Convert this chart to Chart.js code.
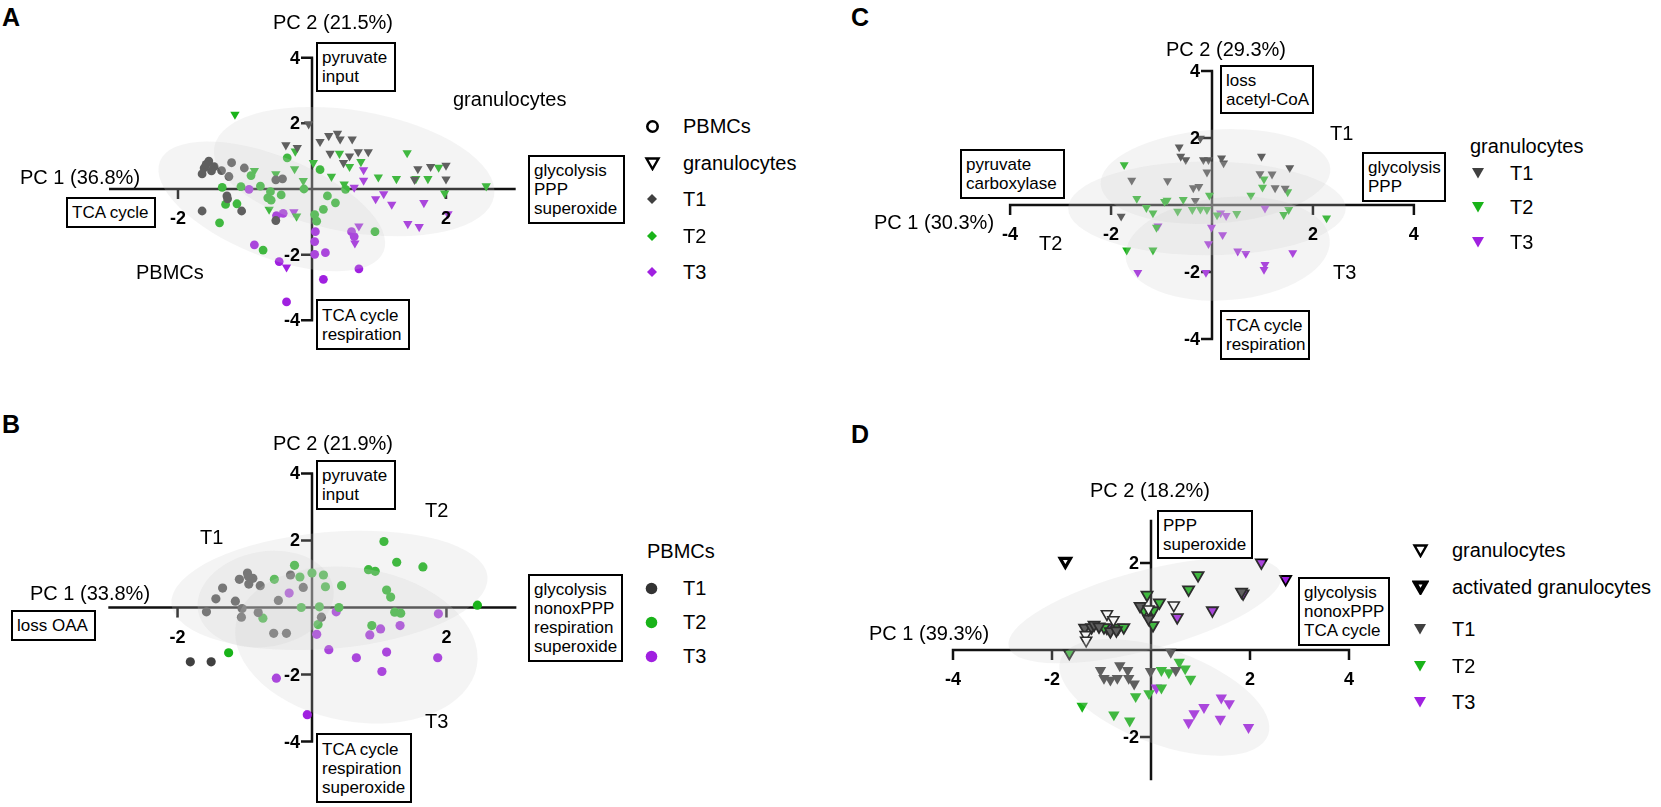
<!DOCTYPE html>
<html lang="en">
<head>
<meta charset="UTF-8" />
<title>PCA of metabolic fluxes</title>
<script src="https://cdn.jsdelivr.net/npm/chart.js"></script>
<style>
  body { margin: 0; background: #fff; }
  #fig { position: relative; width: 1661px; height: 807px; overflow: hidden;
         font-family: 'Liberation Sans', Arial, sans-serif; color: #000; }
  canvas { position: absolute; }
  .t { position: absolute; font-size: 20px; line-height: 20px; white-space: nowrap; }
  .letter { position: absolute; font-size: 25px; font-weight: bold; line-height: 25px; }
  .tick { position: absolute; font-size: 18px; font-weight: bold; line-height: 18px; white-space: nowrap; }
  .box { position: absolute; box-sizing: border-box; border: 2.5px solid #000; background: #fff;
         font-size: 17px; line-height: 19px; padding-left: 4px; white-space: nowrap;
         display: flex; flex-direction: column; justify-content: center; }
  .mk { position: absolute; line-height: 0; }
</style>
</head>
<body>
<div id="fig"></div>
<script>
// ---- colours of the time points
const T1 = '#404040', T2 = '#19b319', T3 = '#a020e0';

// ---- panel A: PBMCs (circles) and granulocytes (triangles)
const aGranT1 = [[-0.39,1.34],[-0.22,1.26],[-0.05,1.98],[0.12,1.44],[0.25,1.62],[0.38,1.69],[0.42,1.52],[0.60,1.52],
  [0.27,1.08],[0.56,1.00],[0.69,1.13],[0.84,1.13],[0.47,0.80],[1.58,0.61],[1.77,0.68],[2.00,0.72],[1.53,0.29],[2.00,0.30]];
const aGranT2 = [[-1.15,2.27],[-0.86,0.56],[-0.54,0.46],[-0.25,1.15],[-0.26,0.61],[-0.13,0.25],[0.02,0.80],[0.29,0.38],
  [0.48,0.15],[0.41,1.08],[0.73,0.83],[0.56,0.68],[0.99,0.36],[1.26,0.31],[1.42,1.10],[1.89,0.66],[1.55,0.31],
  [1.73,0.31],[1.98,-0.13],[2.60,0.09],[-0.23,-0.83],[-0.64,-0.62]];
const aGranT3 = [[0.77,0.58],[0.77,0.26],[0.63,0.05],[0.95,-0.30],[1.07,-0.15],[1.19,-0.47],[1.67,-0.42],[1.43,-1.06],
  [1.60,-1.15],[2.03,-0.76],[0.70,-1.13],[0.64,-1.65],[-0.38,-2.38],[-0.27,-0.70]];
const aPbmcT1 = [[-1.54,0.85],[-1.61,0.64],[-1.64,0.46],[-1.46,0.68],[-1.35,0.56],[-1.24,0.38],[-1.20,0.80],[-1.01,0.64],
  [-1.27,-0.21],[-1.26,-0.30],[-1.05,-0.67],[-1.64,-0.67],[-0.54,0.28],[-0.44,0.31],[-0.54,-0.96],[-1.58,0.75],[-1.50,0.55]];
const aPbmcT2 = [[-1.34,0.05],[-1.29,-0.47],[-1.38,-1.03],[-1.12,-0.45],[-1.06,0.07],[-0.91,0.41],[-0.77,0.09],[-0.66,-0.27],
  [-0.62,-0.08],[-0.61,-0.34],[-0.46,-0.18],[-0.37,0.95],[-0.12,0.00],[0.12,0.59],[0.23,-0.21],[0.35,-0.42],[0.17,-0.62],
  [0.04,-0.78],[0.07,-0.98],[0.50,-0.01],[0.94,-1.30],[-0.73,-1.86]];
const aPbmcT3 = [[-0.94,-0.01],[-0.53,-0.81],[-0.43,-0.74],[-0.86,-1.70],[-0.49,-2.21],[0.05,-1.30],[0.04,-1.60],[0.04,-1.99],
  [0.20,-1.94],[0.17,-2.75],[0.70,-2.43],[0.59,-1.30],[0.63,-1.45],[-0.38,-3.44]];
// confidence ellipses: [cx, cy, rx, ry, rotation deg]
const aEllipses = [[-0.60,-0.53,1.80,1.53,22],[0.63,0.53,2.12,1.85,10]];

// ---- panel B: PBMCs only
const bT1 = [[-0.96,1.03],[-1.08,0.84],[-0.88,0.87],[-0.94,0.70],[-0.77,0.65],[-0.95,0.94],[-1.33,0.58],[-1.43,0.26],
  [-1.14,0.19],[-1.57,-0.13],[-1.04,-0.03],[-1.05,-0.29],[-0.80,-0.15],[-0.50,0.21],[-0.32,0.97],[-0.13,0.60],
  [-0.57,-0.77],[-0.38,-0.77],[0.14,-0.29],[-1.81,-1.62],[-1.50,-1.62]];
const bT2 = [[-0.26,1.26],[-0.56,0.84],[-0.18,0.91],[0.00,1.03],[0.17,0.97],[0.20,0.62],[0.44,0.65],[-0.16,0.00],
  [0.11,0.02],[0.40,0.00],[-0.73,-0.32],[0.09,-0.51],[-1.24,-1.35],[1.07,1.97],[1.26,1.35],[1.65,1.21],[0.84,1.13],
  [0.94,1.08],[1.11,0.52],[1.17,0.31],[1.23,-0.14],[1.32,-0.17],[0.89,-0.54],[2.46,0.07]];
const bT3 = [[-0.34,0.43],[0.36,-0.13],[0.07,-0.80],[0.25,-1.26],[0.66,-1.50],[0.86,-0.82],[1.02,-0.64],[1.31,-0.54],
  [1.11,-1.33],[1.04,-1.91],[1.88,-0.19],[1.87,-1.50],[-0.53,-2.11],[-0.07,-3.20]];
const bEllipses = [[-0.69,0.25,1.02,1.42,-10],[0.26,0.51,2.36,1.74,-5],[0.66,-1.12,1.82,2.29,10]];

// ---- panel C: granulocytes only
const cT1 = [[-0.23,1.99],[-0.65,1.73],[-0.62,1.45],[-0.52,1.35],[-0.17,1.35],[-0.07,1.35],[0.19,1.40],[0.23,1.25],
  [-0.10,0.98],[-1.59,0.74],[-0.88,0.72],[-0.37,0.51],[-0.26,0.55],[-0.33,0.13],[-1.80,-0.34],[0.98,1.45],[1.54,1.11],
  [0.95,0.93],[1.19,0.92],[1.25,0.51],[1.45,0.50]];
const cT2 = [[-1.74,1.20],[-1.49,0.19],[-1.30,-0.08],[-1.17,-0.24],[-1.10,-0.67],[-0.94,0.10],[-0.89,0.14],[-0.68,-0.19],
  [-0.57,0.16],[-0.39,-0.14],[-0.23,-0.13],[-0.10,-0.14],[-0.05,0.29],[-1.69,-1.35],[-1.17,-1.35],[0.49,-0.26],
  [0.10,-0.30],[1.03,0.77],[1.00,0.53],[0.77,0.29],[1.50,0.39],[1.42,-0.29],[1.52,-0.14],[2.27,-0.39]];
const cT3 = [[-1.07,-0.63],[-1.47,-2.02],[-0.01,-0.67],[0.21,-0.89],[-0.07,-1.16],[-0.12,-2.02],[0.17,-0.24],[0.28,-0.32],
  [0.51,-1.38],[0.67,-1.45],[1.05,-0.10],[1.60,-1.43],[1.05,-1.78],[1.03,-1.93]];
const cEllipses = [[0.07,0.85,2.28,1.40,-4],[-0.10,-0.10,2.75,1.40,0],[0.31,-1.30,2.03,1.54,-5]];

// ---- panel D: resting and activated granulocytes
const dActOpen = [[-1.73,2.04]];
const dOpen = [[-1.32,0.35],[-1.31,0.22],[-0.89,0.83],[-0.76,0.69],[-0.05,0.94],[0.46,1.03]];
const dActT1 = [[-1.34,0.51],[-1.20,0.52],[-1.15,0.58],[-1.05,0.54],[-0.82,0.43],[-0.70,0.45],[-0.22,1.01],[-0.05,0.72],[1.83,1.34]];
const dActT2 = [[-0.95,0.52],[-0.66,0.51],[-0.55,0.52],[-0.08,1.27],[-0.14,0.91],[0.05,0.91],[0.17,1.09],[0.04,0.57],
  [0.76,1.39],[0.95,1.72],[-1.65,-0.07]];
const dActT3 = [[-0.89,0.51],[0.53,0.75],[1.24,0.91],[1.86,1.30],[2.23,2.01],[2.72,1.63]];
const dT1 = [[-1.02,-0.47],[-0.95,-0.65],[-0.82,-0.69],[-0.68,-0.65],[-0.63,-0.36],[-0.47,-0.47],[-0.45,-0.65],
  [-0.34,-0.78],[-0.01,-0.49],[0.40,-0.05],[0.50,-0.47]];
const dT2 = [[0.21,-0.47],[0.36,-0.52],[0.57,-0.28],[0.69,-0.43],[0.80,-0.67],[-0.31,-1.07],[-0.04,-1.00],[0.21,-0.87],
  [-1.39,-1.29],[-0.75,-1.49],[-0.43,-1.63]];
const dT3 = [[0.11,-0.87],[1.42,-1.10],[1.58,-1.23],[1.07,-1.32],[0.87,-1.46],[0.76,-1.67],[1.40,-1.59],[1.97,-1.78]];
const dEllipses = [[-0.12,0.91,2.85,0.91,-15],[0.27,-1.09,2.23,1.09,20]];

const fig = document.getElementById('fig');

function put(text, x, y, cls, align) {
  const d = document.createElement('div');
  d.className = cls || 't';
  d.textContent = text;
  d.style.left = x + 'px';
  fig.appendChild(d);
  d.style.top = (y - d.offsetHeight / 2) + 'px';
  if (align === 'center') d.style.transform = 'translateX(-50%)';
  if (align === 'right') d.style.transform = 'translateX(-100%)';
}

function box(lines, x, y, w, h) {
  const d = document.createElement('div');
  d.className = 'box';
  Object.assign(d.style, { left: x + 'px', top: y + 'px', width: w + 'px', height: h + 'px' });
  lines.forEach(l => { const s = document.createElement('div'); s.textContent = l; d.appendChild(s); });
  fig.appendChild(d);
}

function mark(svg, x, y) {
  const d = document.createElement('div');
  d.className = 'mk';
  d.innerHTML = svg;
  fig.appendChild(d);
  d.style.left = (x - d.offsetWidth / 2) + 'px';
  d.style.top = (y - d.offsetHeight / 2) + 'px';
}

const svgOpenCircle = '<svg width="15" height="15"><circle cx="7.5" cy="7.5" r="5.2" fill="#fff" stroke="#000" stroke-width="2.6"/></svg>';
const svgOpenTri = '<svg width="17" height="15"><polygon points="2.5,2.5 14.5,2.5 8.5,13" fill="#fff" stroke="#000" stroke-width="2.4"/></svg>';
const svgThickTri = '<svg width="17" height="15"><polygon points="3,2.5 14,2.5 8.5,12" fill="#fff" stroke="#000" stroke-width="4.2"/></svg>';
const svgDiamond = c => `<svg width="12" height="12"><polygon points="6,1 11,6 6,11 1,6" fill="${c}"/></svg>`;
const svgDot = c => `<svg width="13" height="13"><circle cx="6.5" cy="6.5" r="5.8" fill="${c}"/></svg>`;
const svgTri = c => `<svg width="14" height="12"><polygon points="1,1 13,1 7,11.4" fill="${c}"/></svg>`;

function ds(points, fill, style, r, border, borderW) {
  return {
    data: points.map(p => ({ x: p[0], y: p[1] })),
    showLine: false,
    clip: false,
    pointStyle: style,
    pointRotation: style === 'triangle' ? 180 : 0,
    pointRadius: r,
    pointBackgroundColor: fill,
    pointBorderColor: border || fill,
    pointBorderWidth: borderW || 0
  };
}

function axisPlugin(p) {
  return {
    id: 'pcaAxes' + p.id,
    beforeDatasetsDraw(chart) {
      const { ctx, scales: { x, y } } = chart;
      const px = v => x.getPixelForValue(v), py = v => y.getPixelForValue(v);
      ctx.save();
      ctx.strokeStyle = '#111';
      ctx.lineWidth = 2.5;
      ctx.beginPath();
      ctx.moveTo(px(p.xAxis[0]), py(0)); ctx.lineTo(px(p.xAxis[1]), py(0));
      ctx.moveTo(px(0), py(p.yAxis[0])); ctx.lineTo(px(0), py(p.yAxis[1]));
      p.xTicks.forEach(v => { ctx.moveTo(px(v), py(0) - 1.2); ctx.lineTo(px(v), py(0) + 10); });
      p.yTicks.forEach(v => { ctx.moveTo(px(0) + 1.2, py(v)); ctx.lineTo(px(0) - 11, py(v)); });
      ctx.stroke();
      ctx.restore();
    },
    afterDatasetsDraw(chart) {
      const { ctx, scales: { x, y } } = chart;
      ctx.save();
      ctx.fillStyle = 'rgba(205,205,205,0.22)';
      p.ellipses.forEach(([cx, cy, rx, ry, rot]) => {
        const rxp = Math.abs(x.getPixelForValue(rx) - x.getPixelForValue(0));
        const ryp = Math.abs(y.getPixelForValue(ry) - y.getPixelForValue(0));
        ctx.beginPath();
        ctx.ellipse(x.getPixelForValue(cx), y.getPixelForValue(cy), rxp, ryp, rot * Math.PI / 180, 0, Math.PI * 2);
        ctx.fill();
      });
      ctx.restore();
    }
  };
}

function makePanel(p) {
  const L = Math.floor(p.x0 - p.ext[0] * p.sx), R = Math.ceil(p.x0 + p.ext[0] * p.sx);
  const T = Math.floor(p.y0 - p.ext[1] * p.sy), B = Math.ceil(p.y0 + p.ext[1] * p.sy);
  const cv = document.createElement('canvas');
  cv.width = R - L; cv.height = B - T;
  Object.assign(cv.style, { left: L + 'px', top: T + 'px', width: (R - L) + 'px', height: (B - T) + 'px' });
  fig.appendChild(cv);
  const chart = new Chart(cv, {
    type: 'scatter',
    data: { datasets: p.datasets },
    options: {
      responsive: false,
      animation: false,
      devicePixelRatio: 1,
      layout: { padding: 0 },
      scales: {
        x: { type: 'linear', display: false, min: (L - p.x0) / p.sx, max: (R - p.x0) / p.sx },
        y: { type: 'linear', display: false, min: (p.y0 - B) / p.sy, max: (p.y0 - T) / p.sy }
      },
      plugins: { legend: { display: false }, tooltip: { enabled: false } }
    },
    plugins: [axisPlugin(p)]
  });
  const sx = chart.scales.x, sy = chart.scales.y;
  const ox = L + sx.getPixelForValue(0), oy = T + sy.getPixelForValue(0);
  p.xTicks.forEach(v => put(String(v), L + sx.getPixelForValue(v), oy + 29, 'tick', 'center'));
  p.yTicks.forEach(v => put(String(v), ox - 12, T + sy.getPixelForValue(v), 'tick', 'right'));
}

makePanel({
  id: 'A', x0: 312, y0: 189, sx: 68.5, sy: 34, ext: [3.6, 4.6],
  xAxis: [-3.03, 3.04], yAxis: [-4, 4], xTicks: [-2, 2], yTicks: [4, 2, -2, -4], ellipses: aEllipses,
  datasets: [
    ds(aPbmcT1, T1, 'circle', 4.4), ds(aPbmcT2, T2, 'circle', 4.4), ds(aPbmcT3, T3, 'circle', 4.4),
    ds(aGranT1, T1, 'triangle', 5.4), ds(aGranT2, T2, 'triangle', 5.4), ds(aGranT3, T3, 'triangle', 5.4)
  ]
});
makePanel({
  id: 'B', x0: 312, y0: 607.5, sx: 68.5, sy: 34.5, ext: [3.6, 4.6],
  xAxis: [-3.03, 3.04], yAxis: [-4, 4], xTicks: [-2, 2], yTicks: [4, 2, -2, -4], ellipses: bEllipses,
  datasets: [ds(bT1, T1, 'circle', 4.6), ds(bT2, T2, 'circle', 4.6), ds(bT3, T3, 'circle', 4.6)]
});
makePanel({
  id: 'C', x0: 1212, y0: 205, sx: 51.6, sy: 34.6, ext: [4.6, 4.6],
  xAxis: [-4, 4], yAxis: [-4, 4], xTicks: [-4, -2, 2, 4], yTicks: [4, 2, -2, -4], ellipses: cEllipses,
  datasets: [ds(cT1, T1, 'triangle', 5.2), ds(cT2, T2, 'triangle', 5.2), ds(cT3, T3, 'triangle', 5.2)]
});
makePanel({
  id: 'D', x0: 1151, y0: 650, sx: 51.5, sy: 46, ext: [4.6, 3.6],
  xAxis: [-4, 4], yAxis: [-3, 3], xTicks: [-4, -2, 2, 4], yTicks: [2, -2], ellipses: dEllipses,
  datasets: [
    ds(dT1, T1, 'triangle', 6.6), ds(dT2, T2, 'triangle', 6.6), ds(dT3, T3, 'triangle', 6.6),
    ds(dOpen, '#fff', 'triangle', 6.4, '#000', 1.6),
    ds(dActT1, T1, 'triangle', 6.4, '#000', 1.8), ds(dActT2, T2, 'triangle', 6.4, '#000', 1.8),
    ds(dActT3, T3, 'triangle', 6.4, '#000', 1.8), ds(dActOpen, '#fff', 'triangle', 6, '#000', 3.2)
  ]
});

// ---- panel letters
put('A', 2, 17, 'letter'); put('B', 2, 424, 'letter');
put('C', 851, 17, 'letter'); put('D', 851, 434, 'letter');

// ---- panel A texts
put('PC 2 (21.5%)', 333, 22, 't', 'center');
put('granulocytes', 453, 99);
put('PC 1 (36.8%)', 20, 177);
put('PBMCs', 136, 272);
box(['pyruvate', 'input'], 316, 42, 80, 50);
box(['TCA cycle'], 66, 197, 90, 31);
box(['glycolysis', 'PPP', 'superoxide'], 528, 155, 97, 69);
box(['TCA cycle', 'respiration'], 316, 299, 94, 51);
mark(svgOpenCircle, 652, 126); put('PBMCs', 683, 126);
mark(svgOpenTri, 652, 163); put('granulocytes', 683, 163);
mark(svgDiamond(T1), 652, 199); put('T1', 683, 199);
mark(svgDiamond(T2), 652, 236); put('T2', 683, 236);
mark(svgDiamond(T3), 652, 272); put('T3', 683, 272);

// ---- panel B texts
put('PC 2 (21.9%)', 333, 443, 't', 'center');
put('T2', 425, 510); put('T1', 200, 537); put('T3', 425, 721);
put('PC 1 (33.8%)', 30, 593);
box(['pyruvate', 'input'], 316, 460, 80, 50);
box(['loss OAA'], 11, 610, 85, 31);
box(['glycolysis', 'nonoxPPP', 'respiration', 'superoxide'], 528, 574, 95, 88);
box(['TCA cycle', 'respiration', 'superoxide'], 316, 733, 96, 70);
put('PBMCs', 647, 551);
mark(svgDot('#333'), 651, 588); put('T1', 683, 588);
mark(svgDot(T2), 651, 622); put('T2', 683, 622);
mark(svgDot(T3), 651, 656); put('T3', 683, 656);

// ---- panel C texts
put('PC 2 (29.3%)', 1226, 49, 't', 'center');
put('T1', 1330, 133); put('T2', 1039, 243); put('T3', 1333, 272);
put('PC 1 (30.3%)', 874, 222);
box(['loss', 'acetyl-CoA'], 1220, 65, 94, 49);
box(['pyruvate', 'carboxylase'], 960, 149, 105, 50);
box(['glycolysis', 'PPP'], 1362, 152, 84, 50);
box(['TCA cycle', 'respiration'], 1220, 310, 90, 50);
put('granulocytes', 1470, 146);
mark(svgTri(T1), 1478, 173); put('T1', 1510, 173);
mark(svgTri(T2), 1478, 207); put('T2', 1510, 207);
mark(svgTri(T3), 1478, 242); put('T3', 1510, 242);

// ---- panel D texts
put('PC 2 (18.2%)', 1150, 490, 't', 'center');
put('PC 1 (39.3%)', 869, 633);
box(['PPP', 'superoxide'], 1157, 510, 96, 49);
box(['glycolysis', 'nonoxPPP', 'TCA cycle'], 1298, 577, 92, 69);
mark(svgOpenTri, 1420, 550); put('granulocytes', 1452, 550);
mark(svgThickTri, 1420, 587); put('activated granulocytes', 1452, 587);
mark(svgTri(T1), 1420, 629); put('T1', 1452, 629);
mark(svgTri(T2), 1420, 666); put('T2', 1452, 666);
mark(svgTri(T3), 1420, 702); put('T3', 1452, 702);
</script>
</body>
</html>
